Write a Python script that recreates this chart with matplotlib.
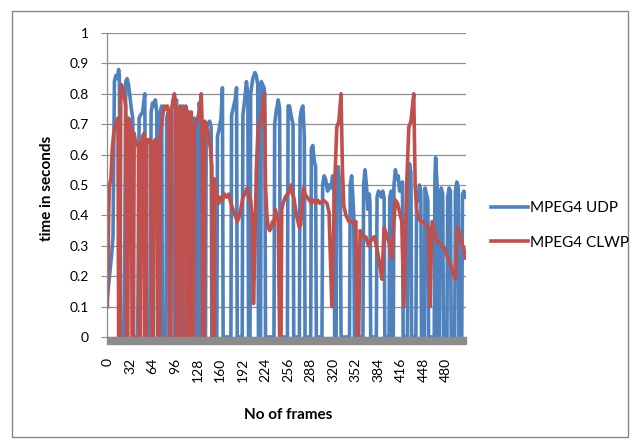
import matplotlib

matplotlib.use("Agg")
import matplotlib.pyplot as plt
from matplotlib.patches import Rectangle

plt.rcParams["font.family"] = ["Lato", "DejaVu Sans"]

# frame index / delay (s) vertices
udp_frames = [
    0, 3, 6, 8, 10, 12, 14, 16, 17, 19, 24, 26, 28, 30, 32, 34, 36, 37, 43, 45,
    47, 50, 53, 55, 60, 62, 64, 66, 68, 70, 71, 74, 75, 77, 78, 83, 84, 86, 88, 89,
    95, 96, 98, 100, 104, 105, 107, 108, 113, 114, 116, 117, 120, 121, 123, 125, 126, 129, 130, 132,
    133, 139, 140, 142, 145, 147, 148, 155, 156, 158, 161, 163, 164, 175, 176, 178, 181, 183, 184, 191,
    192, 195, 197, 199, 200, 202, 203, 206, 209, 211, 213, 214, 217, 218, 220, 222, 223, 224, 236, 237,
    239, 242, 244, 245, 255, 256, 258, 261, 263, 264, 272, 273, 275, 277, 279, 280, 288, 289, 291, 293,
    295, 296, 304, 305, 307, 309, 312, 314, 317, 319, 321, 322, 324, 325, 327, 329, 330, 331, 343, 344,
    346, 348, 349, 350, 362, 363, 365, 367, 369, 371, 372, 373, 381, 382, 384, 386, 388, 390, 392, 393,
    399, 400, 402, 403, 405, 406, 408, 410, 412, 414, 416, 418, 419, 425, 426, 428, 430, 431, 437, 438,
    440, 442, 444, 445, 449, 450, 452, 454, 455, 463, 464, 465, 467, 468, 470, 471, 473, 475, 476, 481,
    482, 484, 486, 487, 492, 493, 495, 497, 498, 502, 503, 505, 507,
]
udp_delay = [
    0.13, 0.20, 0.27, 0.33, 0.84, 0.86, 0.85, 0.88, 0.86, 0, 0, 0.84, 0.85, 0.83, 0.79, 0.75, 0.72, 0, 0, 0.72,
    0.73, 0.74, 0.80, 0, 0, 0.74, 0.77, 0.76, 0.78, 0.74, 0, 0, 0.74, 0.76, 0, 0, 0.72, 0.74, 0.73, 0,
    0, 0.76, 0.78, 0, 0, 0.74, 0.76, 0, 0, 0.72, 0.74, 0, 0, 0.70, 0.72, 0.70, 0, 0, 0.77, 0.74,
    0, 0, 0.69, 0.70, 0.71, 0.69, 0, 0, 0.66, 0.68, 0.72, 0.82, 0, 0, 0.73, 0.75, 0.78, 0.82, 0, 0,
    0.73, 0.79, 0.84, 0.80, 0, 0, 0.80, 0.85, 0.87, 0.86, 0.83, 0, 0, 0.84, 0.83, 0.82, 0.80, 0, 0, 0.70,
    0.74, 0.78, 0.75, 0, 0, 0.76, 0.76, 0.72, 0.70, 0, 0, 0.72, 0.75, 0.76, 0.66, 0, 0, 0.62, 0.63, 0.58,
    0.56, 0, 0, 0.50, 0.53, 0.52, 0.48, 0.50, 0.49, 0.53, 0.50, 0, 0, 0.50, 0.56, 0.50, 0.45, 0, 0, 0.50,
    0.53, 0.45, 0.40, 0, 0, 0.50, 0.55, 0.50, 0.42, 0.47, 0.44, 0, 0, 0.46, 0.48, 0.47, 0.46, 0.48, 0.46, 0,
    0, 0.46, 0.48, 0, 0, 0.50, 0.55, 0.52, 0.53, 0.48, 0.50, 0.51, 0, 0, 0.50, 0.57, 0.54, 0, 0, 0.44,
    0.45, 0.50, 0.48, 0, 0, 0.49, 0.47, 0.45, 0, 0, 0.52, 0.59, 0.50, 0, 0, 0.47, 0.49, 0.47, 0, 0,
    0.46, 0.49, 0.48, 0, 0, 0.48, 0.51, 0.49, 0, 0, 0.47, 0.48, 0.46,
]

clwp_frames = [
    0, 2, 3, 5, 7, 9, 12, 14, 15, 16, 18, 19, 20, 22, 24, 26, 27, 29, 30, 32,
    34, 35, 37, 38, 40, 42, 44, 45, 47, 48, 50, 52, 53, 55, 56, 58, 60, 62, 63, 65,
    66, 68, 70, 72, 74, 75, 77, 79, 81, 83, 85, 87, 88, 90, 91, 93, 95, 97, 98, 100,
    101, 103, 105, 106, 108, 109, 111, 113, 114, 116, 117, 118, 119, 120, 122, 123, 125, 127, 129, 131,
    133, 134, 135, 137, 138, 140, 142, 144, 146, 148, 149, 151, 152, 154, 156, 158, 160, 163, 166, 169,
    172, 175, 178, 181, 184, 186, 189, 192, 195, 198, 201, 203, 205, 207, 209, 211, 213, 215, 218, 220,
    222, 223, 224, 226, 228, 230, 232, 234, 236, 238, 240, 242, 244, 246, 247, 249, 252, 255, 258, 260,
    262, 264, 266, 268, 270, 272, 274, 276, 278, 280, 283, 286, 289, 292, 295, 298, 301, 306, 311, 314,
    318, 322, 325, 328, 331, 333, 335, 338, 342, 346, 349, 352, 354, 356, 358, 362, 366, 370, 374, 378,
    382, 385, 389, 392, 395, 399, 403, 406, 408, 411, 414, 417, 420, 424, 427, 430, 434, 436, 438, 441,
    444, 447, 450, 455, 457, 460, 463, 466, 470, 474, 478, 482, 486, 490, 493, 496, 499, 502, 505, 507,
]
clwp_delay = [
    0.10, 0.42, 0.50, 0.52, 0.62, 0.67, 0.70, 0.71, 0.72, 0, 0, 0.80, 0.83, 0.81, 0.79, 0.76, 0, 0, 0.72, 0.70,
    0.69, 0, 0, 0.67, 0.64, 0.63, 0.64, 0, 0, 0.62, 0.66, 0.67, 0, 0, 0.65, 0.64, 0.65, 0.64, 0, 0,
    0.64, 0.65, 0.64, 0, 0, 0.66, 0.70, 0.74, 0.76, 0.75, 0.76, 0.74, 0, 0, 0.75, 0.78, 0.80, 0.76, 0, 0,
    0.74, 0.76, 0.75, 0, 0, 0.73, 0.76, 0.74, 0, 0, 0.70, 0.72, 0.74, 0, 0, 0.68, 0.70, 0.71, 0.73, 0.75,
    0.80, 0.72, 0, 0, 0.71, 0.70, 0.68, 0.65, 0.62, 0.56, 0, 0, 0.52, 0.48, 0.45, 0.44, 0.46, 0.45, 0.47, 0.46,
    0.47, 0.44, 0.42, 0.40, 0.38, 0.39, 0.42, 0.46, 0.47, 0.49, 0.46, 0.45, 0.40, 0.11, 0.30, 0.55, 0.66, 0.70, 0.72, 0.75,
    0.80, 0.70, 0.50, 0.40, 0.36, 0.35, 0.36, 0.38, 0.37, 0.42, 0.40, 0.38, 0, 0, 0.42, 0.44, 0.46, 0.47, 0.48, 0.50,
    0.47, 0.46, 0.43, 0.40, 0.38, 0.36, 0.37, 0.44, 0.49, 0.47, 0.46, 0.45, 0.44, 0.45, 0.44, 0.45, 0.44, 0.45, 0.44, 0.41,
    0.10, 0.50, 0.69, 0.71, 0.80, 0.55, 0.43, 0.40, 0.38, 0.38, 0.37, 0.38, 0, 0, 0.35, 0.33, 0.33, 0.30, 0.32, 0.33,
    0.29, 0.25, 0.19, 0.36, 0.34, 0.31, 0.26, 0.38, 0.45, 0.44, 0.41, 0.38, 0.10, 0.50, 0.69, 0.71, 0.80, 0.50, 0.42, 0.39,
    0.38, 0.38, 0.37, 0.36, 0.10, 0.38, 0.35, 0.32, 0.31, 0.30, 0.29, 0.26, 0.24, 0.21, 0.19, 0.36, 0.34, 0.31, 0.29, 0.26,
]

x_ticks = list(range(0, 481, 32))
y_ticks = [0, 0.1, 0.2, 0.3, 0.4, 0.5, 0.6, 0.7, 0.8, 0.9, 1]
y_tick_labels = ["0", "0.1", "0.2", "0.3", "0.4", "0.5", "0.6", "0.7", "0.8", "0.9", "1"]

BLUE = "#4F81BD"
RED = "#C0504D"
GRID = "#8E8E8E"

W, H = 636, 443
fig = plt.figure(figsize=(W / 100, H / 100), dpi=100)
ax = fig.add_axes([107 / W, 1 - 337 / H, (466 - 107) / W, (337 - 33) / H])

ax.plot(udp_frames, udp_delay, color=BLUE, lw=2.6, label="MPEG4 UDP", solid_joinstyle="round")
ax.plot(clwp_frames, clwp_delay, color=RED, lw=2.6, label="MPEG4 CLWP", solid_joinstyle="round")

ax.set_xlim(-0.5, 508)
ax.set_ylim(0, 1)
ax.set_yticks(y_ticks)
ax.set_yticklabels(y_tick_labels)
ax.set_xticks(x_ticks)
ax.set_xticklabels([str(t) for t in x_ticks], rotation=90)
ax.tick_params(axis="y", length=4, color=GRID, pad=9, labelsize=10)
ax.tick_params(axis="x", length=0, pad=15, labelsize=10)
ax.grid(axis="y", color=GRID, lw=0.9)
ax.set_axisbelow(True)
for side in ["top", "right", "bottom"]:
    ax.spines[side].set_visible(False)
ax.spines["left"].set_color(GRID)
ax.spines["left"].set_linewidth(0.9)

# grey floor band under the plot, as drawn by the spreadsheet
ax.add_patch(Rectangle((0, -7 / 304), 1, 7 / 304, transform=ax.transAxes,
                       color="#8C8C8C", clip_on=False, zorder=3))

fig.text(288 / W, 1 - 415 / H, "No of frames", ha="center", va="center",
         fontsize=11, fontweight="bold")
fig.text(47 / W, 1 - 188 / H, "time in seconds", ha="center", va="center",
         rotation=90, fontsize=11, fontweight="bold")

fig.legend(loc="upper left", bbox_to_anchor=(491 / W, 1 - 201 / H), frameon=False,
           fontsize=11, handlelength=2.4, handletextpad=0.15, labelspacing=1.35,
           borderpad=0, borderaxespad=0)

fig.add_artist(Rectangle((12 / W, 1 - 437 / H), (628 - 12) / W, (437 - 11) / H,
                         transform=fig.transFigure, fill=False, edgecolor="#868686", lw=1))

fig.savefig("out.png", dpi=100)
